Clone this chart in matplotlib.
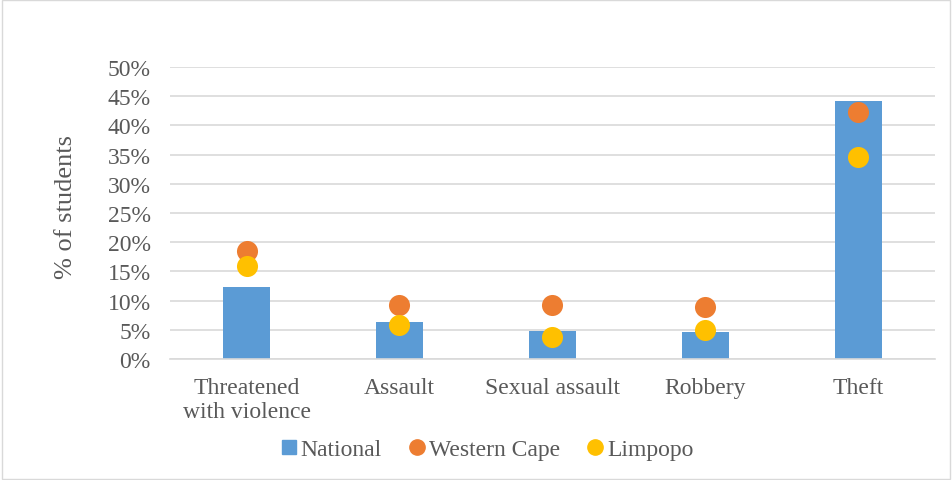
import numpy as np
import matplotlib.pyplot as plt
from matplotlib.patches import Rectangle
from matplotlib.lines import Line2D

categories = ['Threatened\nwith violence', 'Assault', 'Sexual assault', 'Robbery', 'Theft']
national = [12.3, 6.3, 4.8, 4.6, 44.2]
western_cape = [18.5, 9.2, 9.2, 8.9, 42.3]
limpopo = [15.9, 5.8, 3.8, 5.0, 34.6]
yticks = list(range(0, 51, 5))

plt.rcParams['font.family'] = ['Liberation Serif', 'DejaVu Serif']
text_col = '#595959'
c_nat, c_wc, c_lim = '#5b9bd5', '#ed7d31', '#ffc000'

fig = plt.figure(figsize=(9.52, 4.81), dpi=100)
ax = fig.add_axes([0.1786, 0.2516, 0.8034, 0.607])

x = np.arange(len(categories))
ax.bar(x, national, width=0.31, color=c_nat, zorder=2)
ax.scatter(x, western_cape, s=230, color=c_wc, zorder=3, linewidths=0)
ax.scatter(x, limpopo, s=230, color=c_lim, zorder=4, linewidths=0)

ax.set_xlim(-0.5, len(categories) - 0.5)
ax.set_ylim(0, 50)
ax.set_yticks(yticks)
ax.set_yticklabels(['%d%%' % t for t in yticks])
ax.set_xticks(x)
ax.set_xticklabels(categories, linespacing=1.2)
ax.grid(axis='y', color='#d9d9d9', linewidth=1.2, zorder=0)
for s in ['top', 'right', 'left']:
    ax.spines[s].set_visible(False)
ax.spines['bottom'].set_color('#d9d9d9')
ax.spines['bottom'].set_linewidth(1.2)
ax.tick_params(axis='both', length=0, labelsize=17, colors=text_col)
ax.tick_params(axis='x', pad=13)
ax.tick_params(axis='y', pad=14)
ax.set_ylabel('% of students', fontsize=19, color=text_col)
ax.yaxis.set_label_coords(-0.121, 0.525)

handles = [
    Line2D([], [], marker='s', linestyle='', color=c_nat, markersize=10),
    Line2D([], [], marker='o', linestyle='', color=c_wc, markersize=11),
    Line2D([], [], marker='o', linestyle='', color=c_lim, markersize=11),
]
ax.legend(handles, ['National', 'Western Cape', 'Limpopo'], loc='center',
          bbox_to_anchor=(0.412, -0.31), ncol=3, frameon=False,
          fontsize=17, labelcolor=text_col, handletextpad=0.0, columnspacing=1.0,
          handlelength=1.0)

fig.patches.append(Rectangle((0.002, 0.002), 0.996, 0.996, transform=fig.transFigure,
                             fill=False, edgecolor='#d9d9d9', linewidth=1))

fig.savefig('out.png', dpi=100)
